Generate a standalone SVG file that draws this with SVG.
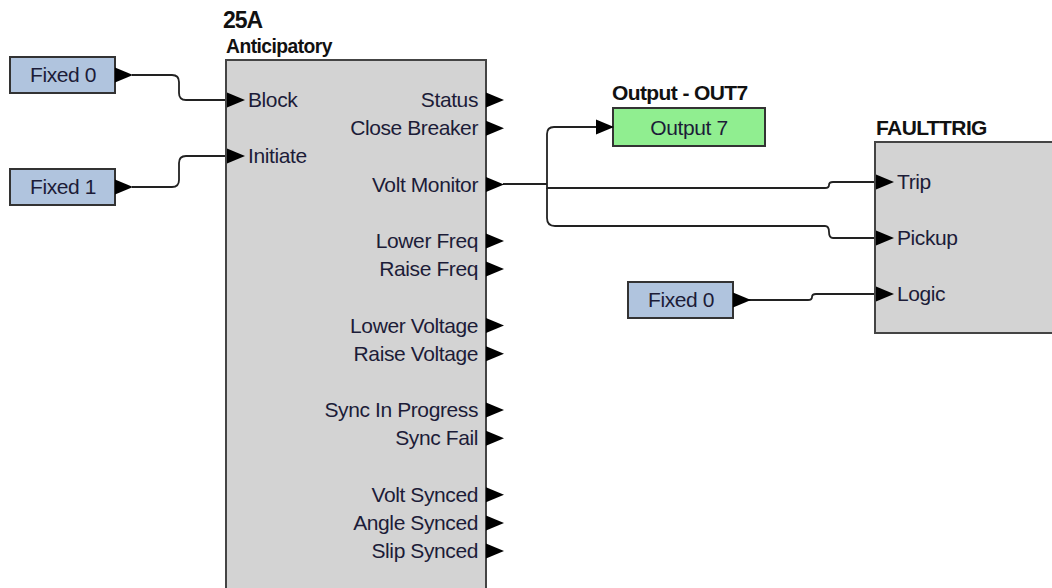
<svg xmlns="http://www.w3.org/2000/svg" width="1052" height="588" viewBox="0 0 1052 588">
<style>
.t{font-family:"Liberation Sans",Arial,sans-serif;font-size:21px;letter-spacing:-0.4px;fill:#1c1c38}
.h{font-family:"Liberation Sans",Arial,sans-serif;font-size:21px;font-weight:bold;letter-spacing:-0.6px;fill:#111}
.blk{fill:#d3d3d3;stroke:#444;stroke-width:2}
.fix{fill:#b0c4de;stroke:#333;stroke-width:2}
.out{fill:#90ee90;stroke:#333;stroke-width:2}
.ar{fill:#000}
.w{fill:none;stroke:#222;stroke-width:1.8}
.e{text-anchor:end}
.m{text-anchor:middle}
</style>
<defs>
<path id="pa" d="M0,-7.5 L18,0 L0,7.5 Z"/>
</defs>
<rect width="1052" height="588" fill="#fff"/>

<g id="connectors">
<path class="w" d="M132,75 H172 Q179,75 179,82 V93 Q179,100 186,100 H228"/>
<path class="w" d="M132,187 H172 Q179,187 179,180 V163 Q179,156 186,156 H228"/>
<path class="w" d="M503,184 H547"/>
<path class="w" d="M547,184 V134 Q547,127 554,127 H597"/>
<path class="w" d="M547,184 V188 H825 Q829,188 829,185 Q829,182 833,182 H876"/>
<path class="w" d="M547,188 V218 Q547,226 555,226 H825 Q829,226 829,232 Q829,238 833,238 H876"/>
<path class="w" d="M748,300 H808 Q812,300 812,297 Q812,294 816,294 H876"/>
</g>

<g id="fixed0">
<rect class="fix" x="10" y="57" width="105" height="36"/>
<text class="t m" x="63" y="82">Fixed 0</text>
<use href="#pa" class="ar" x="115" y="75"/>
</g>

<g id="fixed1">
<rect class="fix" x="10" y="169" width="105" height="36"/>
<text class="t m" x="63" y="194">Fixed 1</text>
<use href="#pa" class="ar" x="115" y="187"/>
</g>

<g id="anticipatory25a">
<text class="h" x="223" y="28" style="font-size:23px;letter-spacing:-1px">25A</text>
<text class="h" x="226" y="53" textLength="106" lengthAdjust="spacingAndGlyphs">Anticipatory</text>
<rect class="blk" x="226" y="60" width="260" height="540"/>
<use href="#pa" class="ar" x="227" y="100"/>
<text class="t" x="248" y="107">Block</text>
<use href="#pa" class="ar" x="227" y="156"/>
<text class="t" x="248" y="163">Initiate</text>
<g class="ar">
<use href="#pa" x="486" y="100"/>
<use href="#pa" x="486" y="128.2"/>
<use href="#pa" x="486" y="184.6"/>
<use href="#pa" x="486" y="241"/>
<use href="#pa" x="486" y="269.1"/>
<use href="#pa" x="486" y="325.5"/>
<use href="#pa" x="486" y="353.7"/>
<use href="#pa" x="486" y="410.1"/>
<use href="#pa" x="486" y="438.3"/>
<use href="#pa" x="486" y="494.7"/>
<use href="#pa" x="486" y="522.9"/>
<use href="#pa" x="486" y="551"/>
</g>
<text class="t e" x="478" y="107">Status</text>
<text class="t e" x="478" y="135.2">Close Breaker</text>
<text class="t e" x="478" y="191.6">Volt Monitor</text>
<text class="t e" x="478" y="248">Lower Freq</text>
<text class="t e" x="478" y="276.1">Raise Freq</text>
<text class="t e" x="478" y="332.5">Lower Voltage</text>
<text class="t e" x="478" y="360.7">Raise Voltage</text>
<text class="t e" x="478" y="417.1">Sync In Progress</text>
<text class="t e" x="478" y="445.3">Sync Fail</text>
<text class="t e" x="478" y="501.7">Volt Synced</text>
<text class="t e" x="478" y="529.9">Angle Synced</text>
<text class="t e" x="478" y="558">Slip Synced</text>
</g>

<g id="output7">
<text class="h" x="612" y="100">Output - OUT7</text>
<rect class="out" x="613" y="108" width="152" height="38"/>
<text class="t m" x="689" y="135">Output 7</text>
<use href="#pa" class="ar" x="596" y="127"/>
</g>

<g id="faulttrig">
<text class="h" x="876" y="135">FAULTTRIG</text>
<rect class="blk" x="875" y="142" width="200" height="191"/>
<use href="#pa" class="ar" x="876" y="182"/>
<text class="t" x="897" y="189">Trip</text>
<use href="#pa" class="ar" x="876" y="238"/>
<text class="t" x="897" y="245">Pickup</text>
<use href="#pa" class="ar" x="876" y="294"/>
<text class="t" x="897" y="301">Logic</text>
</g>

<g id="fixed0b">
<rect class="fix" x="628" y="282" width="105" height="36"/>
<text class="t m" x="681" y="307">Fixed 0</text>
<use href="#pa" class="ar" x="733" y="300"/>
</g>
</svg>
